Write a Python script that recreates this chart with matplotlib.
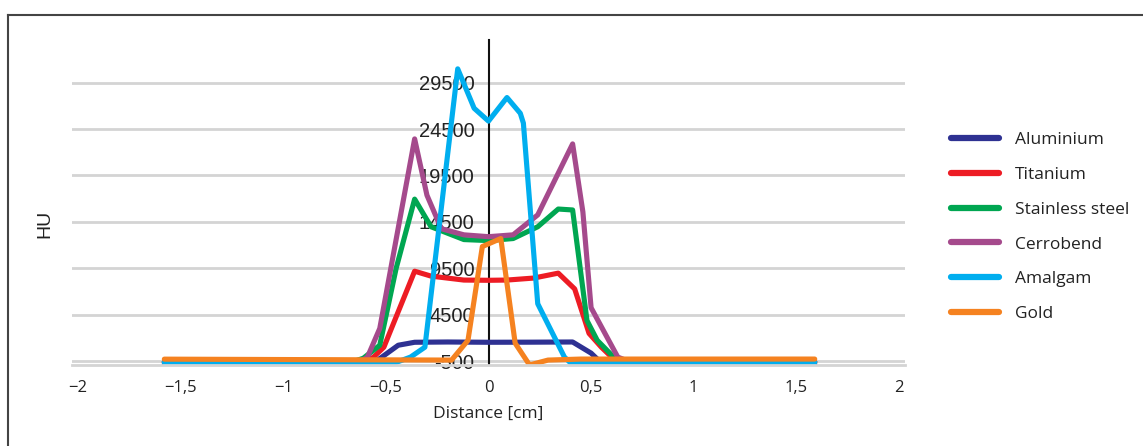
import matplotlib.pyplot as plt
from matplotlib.lines import Line2D

# HU profiles across the insert
alu_x = [-1.58, -0.62, -0.54, -0.44, -0.36, -0.2, 0.0, 0.2, 0.41, 0.50, 0.55, 0.64, 1.59]
alu_y = [-820, -820, -400, 1200, 1520, 1550, 1520, 1530, 1550, 350, -710, -820, -820]

ti_x = [-1.58, -0.60, -0.56, -0.51, -0.36, -0.28, -0.12, 0.0, 0.09, 0.22, 0.34, 0.42, 0.49, 0.55, 0.60, 0.67, 1.59]
ti_y = [-600, -600, -75, 990, 9180, 8650, 8225, 8200, 8225, 8440, 8970, 7270, 2480, 990, -75, -600, -600]

ss_x = [-1.58, -0.65, -0.61, -0.53, -0.45, -0.36, -0.28, -0.12, 0.0, 0.12, 0.24, 0.34, 0.41, 0.48, 0.53, 0.61, 0.67, 1.59]
ss_y = [-600, -500, -200, 1200, 9500, 16950, 13970, 12590, 12480, 12700, 13970, 15880, 15780, 3860, 1730, -75, -500, -600]

cb_x = [-1.58, -0.62, -0.59, -0.53, -0.36, -0.30, -0.23, -0.12, 0.0, 0.12, 0.24, 0.41, 0.46, 0.50, 0.63, 0.69, 1.59]
cb_y = [-600, -500, -75, 3010, 23440, 17370, 13760, 13100, 12900, 13100, 15250, 22900, 15570, 5245, -75, -600, -600]

am_x = [-1.58, -0.45, -0.38, -0.31, -0.15, -0.07, 0.0, 0.09, 0.155, 0.17, 0.24, 0.37, 0.40, 1.59]
am_y = [-650, -650, -75, 990, 30990, 26740, 25355, 27900, 26200, 25140, 5670, -75, -710, -650]

au_x = [-1.58, -0.18, -0.10, -0.03, 0.06, 0.13, 0.20, 0.29, 0.45, 1.59]
au_y = [-300, -400, 1730, 11840, 12700, 1420, -925, -400, -290, -290]

names = ["Aluminium", "Titanium", "Stainless steel", "Cerrobend", "Amalgam", "Gold"]
colors = ["#2e3192", "#ed1c24", "#00a651", "#a54a8c", "#00aeef", "#f58220"]

xticks = [-2, -1.5, -1, -0.5, 0, 0.5, 1, 1.5, 2]
xlabels = ["\u22122", "\u22121,5", "\u22121", "\u22120,5", "0", "0,5", "1", "1,5", "2"]
yticks = [-500, 4500, 9500, 14500, 19500, 24500, 29500]

side_font = "Open Sans"
num_font = "Liberation Sans"

fig = plt.figure(figsize=(11.43, 4.46), dpi=100)
ax = fig.add_axes([72 / 1143, 81 / 446, 833 / 1143, 325 / 446])

series = [(alu_x, alu_y), (ti_x, ti_y), (ss_x, ss_y), (cb_x, cb_y), (am_x, am_y), (au_x, au_y)]
for (xs, ys), name, c in zip(series, names, colors):
    ax.plot(xs, ys, color=c, lw=3.7, label=name,
            solid_capstyle="round", solid_joinstyle="round")

ax.set_xlim(-2.03, 2.03)
ax.set_ylim(-930, 34100)

# gridlines
for t in yticks:
    ax.axhline(t, color="#d4d4d4", lw=2, zorder=0)

ax.spines["top"].set_visible(False)
ax.spines["right"].set_visible(False)
ax.spines["bottom"].set_color("#d4d4d4")
ax.spines["bottom"].set_linewidth(2)
ax.spines["left"].set_position(("data", 0))
ax.spines["left"].set_color("#111111")
ax.spines["left"].set_linewidth(1.5)
ax.spines["left"].set_zorder(0.5)

ax.set_yticks(yticks)
ax.set_yticklabels([str(t) for t in yticks], fontsize=14.5, family=num_font, color="#222222")
ax.tick_params(axis="y", length=0, pad=10)

ax.set_xticks(xticks)
ax.set_xticklabels(xlabels, fontsize=12, family=side_font, color="#222222")
ax.tick_params(axis="x", length=0, pad=11)

ax.set_xlabel("Distance [cm]", fontsize=12.5, family=side_font, color="#222222", labelpad=7)
fig.text(45 / 1143, 1 - 224 / 446, "HU", rotation=90, fontsize=14, family=num_font,
         color="#222222", ha="center", va="center")

leg = ax.legend(loc="upper left", bbox_to_anchor=(942 / 1143, 1 - 123 / 446),
                bbox_transform=fig.transFigure, frameon=False,
                prop={"family": side_font, "size": 12.5},
                handlelength=2.8, handletextpad=0.9, labelspacing=1.08, borderpad=0)
for h in leg.get_lines():
    h.set_linewidth(4.5)
    h.set_solid_capstyle("round")
for t in leg.get_texts():
    t.set_color("#222222")

# outer frame (left and top edges visible)
fig.add_artist(Line2D([8 / 1143, 8 / 1143], [0, 1 - 15 / 446], color="#444444", lw=1.5))
fig.add_artist(Line2D([8 / 1143, 1], [1 - 15 / 446, 1 - 15 / 446], color="#444444", lw=1.5))

fig.savefig("out.png", dpi=100)
